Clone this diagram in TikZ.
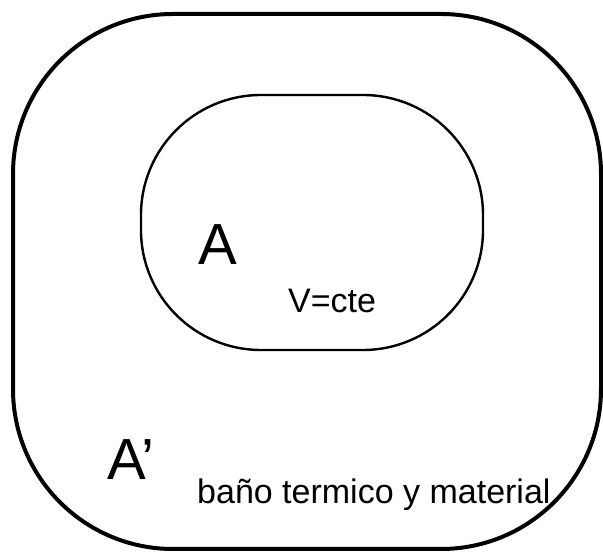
\documentclass[tikz,border=0pt]{standalone}
\usepackage{fontspec}
\setmainfont{Liberation Sans}
\usepackage{tikz}

\begin{document}
\begin{tikzpicture}[
  x=1pt, y=1pt,
  wall/.style={draw, line width=4pt},
  sys/.style={draw, line width=2.4pt},
  big/.style={anchor=base west, inner sep=0pt, font=\fontsize{58}{64}\selectfont},
  small/.style={anchor=base west, inner sep=0pt, font=\fontsize{34}{40}\selectfont}
]
\useasboundingbox (0,0) rectangle (603,559);
% bath (outer wall)
\draw[wall] (13,170) -- (13,385) arc[start angle=180, end angle=90, radius=160]
  -- (441,545) arc[start angle=90, end angle=0, radius=160]
  -- (601,170) arc[start angle=0, end angle=-90, radius=160]
  -- (173,10) arc[start angle=-90, end angle=-180, radius=160] -- cycle;
% system A
\draw[sys] (141,329) -- (141,344) arc[start angle=180, end angle=90, radius=120]
  -- (363,464) arc[start angle=90, end angle=0, radius=120]
  -- (483,329) arc[start angle=0, end angle=-90, radius=120]
  -- (261,209) arc[start angle=-90, end angle=-180, radius=120] -- cycle;
\node[big] (sysA) at (198,294) {A};
\node[small] (vol) at (288,246) {V=cte};
\node[big] (bathA) at (107,79) {A’};
\node[small] (bath) at (197,55) {baño termico y material};
\end{tikzpicture}
\end{document}
